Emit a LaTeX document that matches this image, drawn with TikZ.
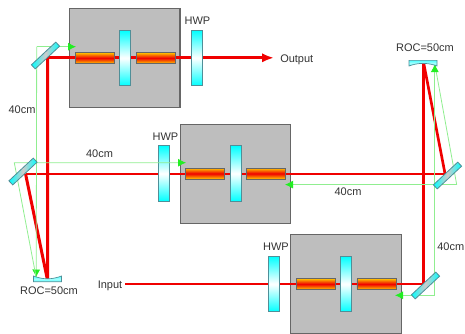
\documentclass[tikz,border=0pt]{standalone}
\usepackage{xcolor}
\usepackage{fontspec}
\setmainfont{Liberation Sans}
\usetikzlibrary{arrows.meta}
\definecolor{slab}{HTML}{BEBEBE}
\definecolor{slabline}{HTML}{666666}
\definecolor{optline}{HTML}{4F8F98}
\definecolor{seed}{HTML}{90EE90}
\definecolor{seedtip}{HTML}{22EE22}
\definecolor{lasing}{HTML}{F00000}
\definecolor{pump}{HTML}{FFC800}
\tikzset{
  lbl/.style={font=\fontsize{8.25pt}{10pt}\selectfont,text=black!80,inner sep=0pt},
  cavitybox/.style={draw=slabline,line width=0.8pt,fill=slab,minimum width=82.9pt,minimum height=74.25pt,inner sep=0pt,outer sep=0pt},
  crystal/.style={draw=black!60,line width=0.6pt,top color=pump,bottom color=pump,middle color=lasing,minimum width=29.4pt,minimum height=8.25pt,inner sep=0pt,outer sep=0pt},
  waveplate/.style={draw=optline,line width=0.6pt,top color=cyan,bottom color=cyan,middle color=white,minimum width=8.25pt,minimum height=41.6pt,inner sep=0pt,outer sep=0pt},
  flatmirror/.style={draw=optline,line width=0.6pt,left color=cyan,right color=cyan,middle color=black!20,minimum width=25pt,minimum height=4.2pt,inner sep=0pt,outer sep=0pt,rotate=43},
  curvedmirror/.style={draw=optline,line width=0.5pt,top color=cyan!70!white,bottom color=cyan!70!white,middle color=cyan!35!white},
  beamthick/.style={draw=lasing,line width=2.25pt,line join=bevel},
  beamthin/.style={draw=lasing,line width=1.4pt},
  seedline/.style={draw=seed,line width=0.6pt},
  seedarrow/.style={seedline,-{Latex[length=6pt,width=6pt,color=seedtip]}}
}
\begin{document}
\begin{tikzpicture}[x=0.75pt,y=-0.75pt]
  \useasboundingbox (0,0) rectangle (465,333);
  % gain modules
  \node[cavitybox] (boxA) at (124.7,57.7) {};
  \node[cavitybox] (boxB) at (235.5,174) {};
  \node[cavitybox] (boxC) at (345.8,284.2) {};
  % beam corners
  \coordinate (cTL) at (47.5,57.8);
  \coordinate (cML) at (25.5,173.6);
  \coordinate (cBL) at (47.5,280);
  \coordinate (cTR) at (423.5,62);
  \coordinate (cMR) at (445,173.6);
  \coordinate (cBR) at (423.5,284);
  \coordinate (inStart) at (125,284);
  \coordinate (outEnd) at (274,57.8);
  % seed corners
  \coordinate (sTL) at (36.7,46.7);
  \coordinate (sAin) at (76,46.7);
  \coordinate (sML) at (14.3,162.7);
  \coordinate (sBin) at (186,162.7);
  \coordinate (sBL) at (36.2,277.5);
  \coordinate (sTR) at (434.8,64);
  \coordinate (sMR) at (456.7,184.6);
  \coordinate (sBout) at (285,184.6);
  \coordinate (sBR) at (434.8,295.3);
  \coordinate (sCin) at (395,295.3);
  % red beam
  \draw[beamthick,-{Latex[length=9pt,width=7pt]}] (cTL) -- (outEnd);
  \draw[beamthick] (cML) -- (cBL) -- (cTL);
  \draw[beamthin] (cML) -- (cMR);
  \draw[beamthick,line width=2pt] (cMR) -- (cTR) -- (cBR);
  \draw[beamthick,line width=2pt] (cBR) -- (boxC.east |- cBR);
  \draw[beamthin] (inStart) -- (cBR -| boxC.east);
  % crystals and plates
  \foreach \nm/\x/\y in {a/94.7/58,b/155.7/58,c/205.2/173.5,d/266.1/173.5,e/315.7/284,f/376.5/284} {
    \node[crystal] (xtal\nm) at (\x,\y) {};
  }
  \foreach \nm/\x/\y in {a/125/58,b/235.7/173.5,c/346/284} {
    \node[waveplate] (plate\nm) at (\x,\y) {};
  }
  \foreach \nm/\x/\y in {a/196.8/58,b/164/173.5,c/274.3/284} {
    \node[waveplate] (hwp\nm) at (\x,\y) {};
  }
  % seed beam
  \draw[seedarrow] (sTL) -- (sAin);
  \draw[seedarrow] (sTL) -- (sBL);
  \draw[seedarrow] (sBL) -- (sML) -- (sBin);
  \draw[seedarrow] (sMR) -- (sBout);
  \draw[seedline] (sTR) -- (sMR);
  \draw[seedarrow] (sBR) -- (sTR);
  \draw[seedarrow] (sBR) -- (sCin);
  % mirrors
  \node[flatmirror] (mirTL) at (45.5,55.5) {};
  \node[flatmirror] (mirML) at (23,171.5) {};
  \node[flatmirror] (mirMR) at (447.5,175.5) {};
  \node[flatmirror] (mirBR) at (425.5,285.5) {};
  \shade[curvedmirror] (409,60.4) -- (437,60.4) -- (437,66) .. controls (428,62.5) and (418,62.5) .. (409,66) -- cycle;
  \shade[curvedmirror] (33.5,281.7) -- (61.5,281.7) -- (61.5,276) .. controls (52,279.7) and (43,279.7) .. (33.5,276) -- cycle;
  % labels
  \node[lbl] (lblRocT) at (425,48) {ROC=50cm};
  \node[lbl] (lblRocB) at (49,291) {ROC=50cm};
  \node[lbl] (lblHwpA) at (197.5,21) {HWP};
  \node[lbl] (lblHwpB) at (165.5,137) {HWP};
  \node[lbl] (lblHwpC) at (276,247) {HWP};
  \node[lbl] (lblLenA) at (22,110) {40cm};
  \node[lbl] (lblLenB) at (99.5,153.5) {40cm};
  \node[lbl] (lblLenC) at (348,192) {40cm};
  \node[lbl,anchor=east] (lblLenD) at (464.5,247) {40cm};
  \node[lbl,anchor=west] (lblOut) at (280,60) {Output};
  \node[lbl,anchor=east] (lblIn) at (122.5,286) {Input};
\end{tikzpicture}
\end{document}
